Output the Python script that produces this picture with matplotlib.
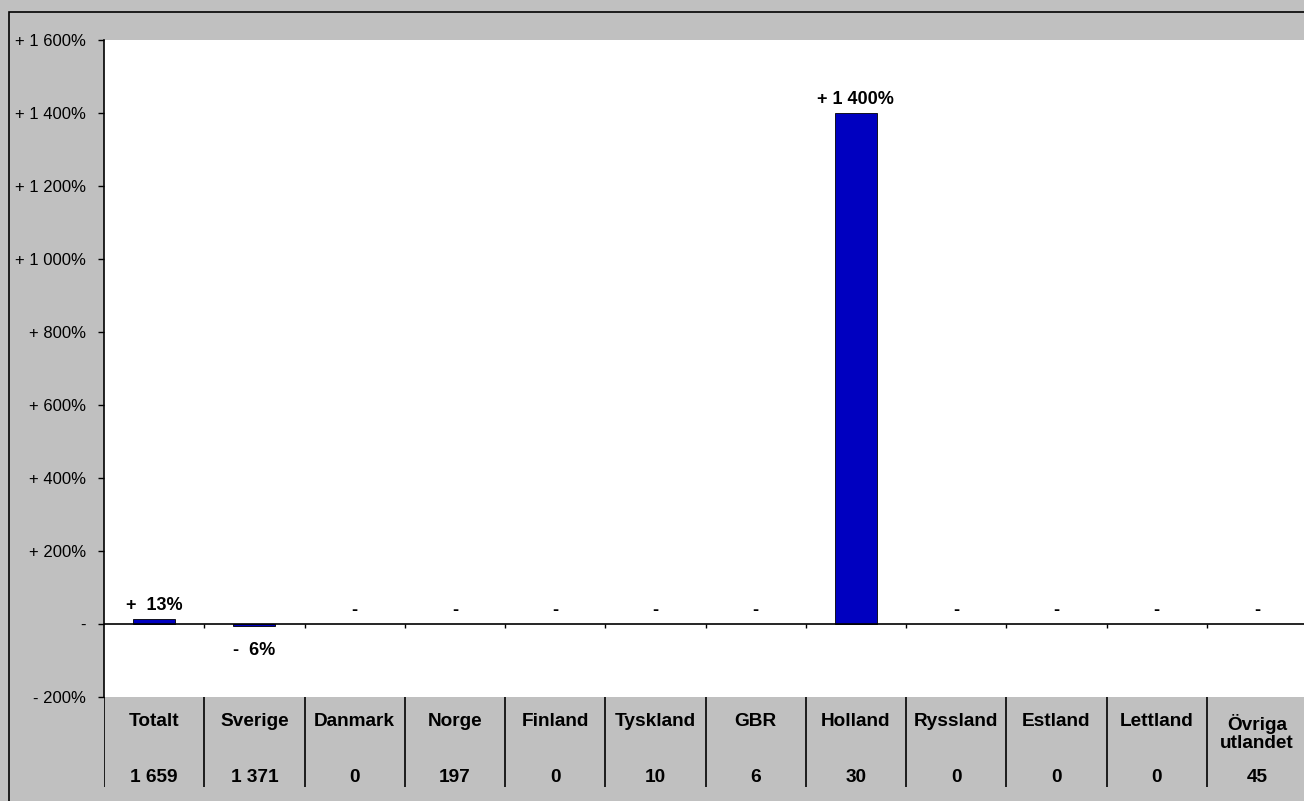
import matplotlib
matplotlib.use("Agg")
import matplotlib.pyplot as plt
from matplotlib.patches import Rectangle

categories = ["Totalt", "Sverige", "Danmark", "Norge", "Finland", "Tyskland",
              "GBR", "Holland", "Ryssland", "Estland", "Lettland", "Övriga\nutlandet"]
changes = [13, -6, 0, 0, 0, 0, 0, 1400, 0, 0, 0, 0]
change_labels = ["+  13%", "-  6%", "-", "-", "-", "-", "-", "+ 1 400%", "-", "-", "-", "-"]
counts = ["1 659", "1 371", "0", "197", "0", "10", "6", "30", "0", "0", "0", "45"]
yticks = [-200, 0, 200, 400, 600, 800, 1000, 1200, 1400, 1600]
ytick_labels = ["- 200%", "-", "+ 200%", "+ 400%", "+ 600%", "+ 800%",
                "+ 1 000%", "+ 1 200%", "+ 1 400%", "+ 1 600%"]

plt.rcParams['font.family'] = ['Liberation Sans', 'DejaVu Sans']

W, H = 1304, 801
fig = plt.figure(figsize=(W / 100, H / 100), dpi=100, facecolor='#c0c0c0')

# outer frame
fig.patches.append(Rectangle((9 / W, -0.05), 1.1, (H - 12) / H + 0.05,
                             transform=fig.transFigure, fill=False,
                             edgecolor='black', linewidth=1.2))

x0, cw = 104, 1203
ax = fig.add_axes([x0 / W, (H - 697) / H, cw / W, (697 - 40) / H])
ax.set_facecolor('white')
n = len(categories)
ax.set_xlim(0, n)
ax.set_ylim(-200, 1600)
xs = [i + 0.5 for i in range(n)]
bars = ax.bar(xs, changes, width=0.42, color='#0000c0', edgecolor='black',
              linewidth=0.6, zorder=3)
for b, v in zip(bars, changes):
    if v == 0:
        b.set_linewidth(0)
ax.axhline(0, color='black', linewidth=1.2, zorder=4)
ax.vlines(range(1, n + 1), -11, 0, color='black', linewidth=1.0, zorder=4)

for x, v, lab in zip(xs, changes, change_labels):
    if v >= 0:
        ax.annotate(lab, (x, v), xytext=(0, 6.5), textcoords='offset points',
                    ha='center', va='baseline', fontsize=13, fontweight='bold')
    else:
        ax.annotate(lab, (x, v), xytext=(0, -21), textcoords='offset points',
                    ha='center', va='baseline', fontsize=13, fontweight='bold')

for s in ['top', 'right', 'bottom']:
    ax.spines[s].set_visible(False)
ax.spines['left'].set_linewidth(1.2)
ax.set_xticks([])
ax.set_yticks(yticks)
ax.set_yticklabels(ytick_labels, fontsize=12)
ax.tick_params(axis='y', length=4, width=1.0, pad=9)

# table below
tab = fig.add_axes([x0 / W, 0, cw / W, (H - 697) / H])
tab.set_xlim(0, n)
tab.set_ylim(0, H - 697)
tab.axis('off')
tab.patch.set_alpha(0)
tab.vlines(range(0, n), H - 787, H - 697, color='black', linewidth=1.2)
fs = 13.7
for x, c, cnt in zip(xs, categories, counts):
    if "\n" in c:
        tab.text(x, H - 733, c, ha='center', va='center', fontsize=fs,
                 fontweight='bold', linespacing=1.05)
    else:
        tab.text(x, H - 722, c, ha='center', va='center', fontsize=fs, fontweight='bold')
    tab.text(x, H - 778, cnt, ha='center', va='center', fontsize=fs, fontweight='bold')

fig.savefig('out.png', dpi=100, facecolor=fig.get_facecolor())
